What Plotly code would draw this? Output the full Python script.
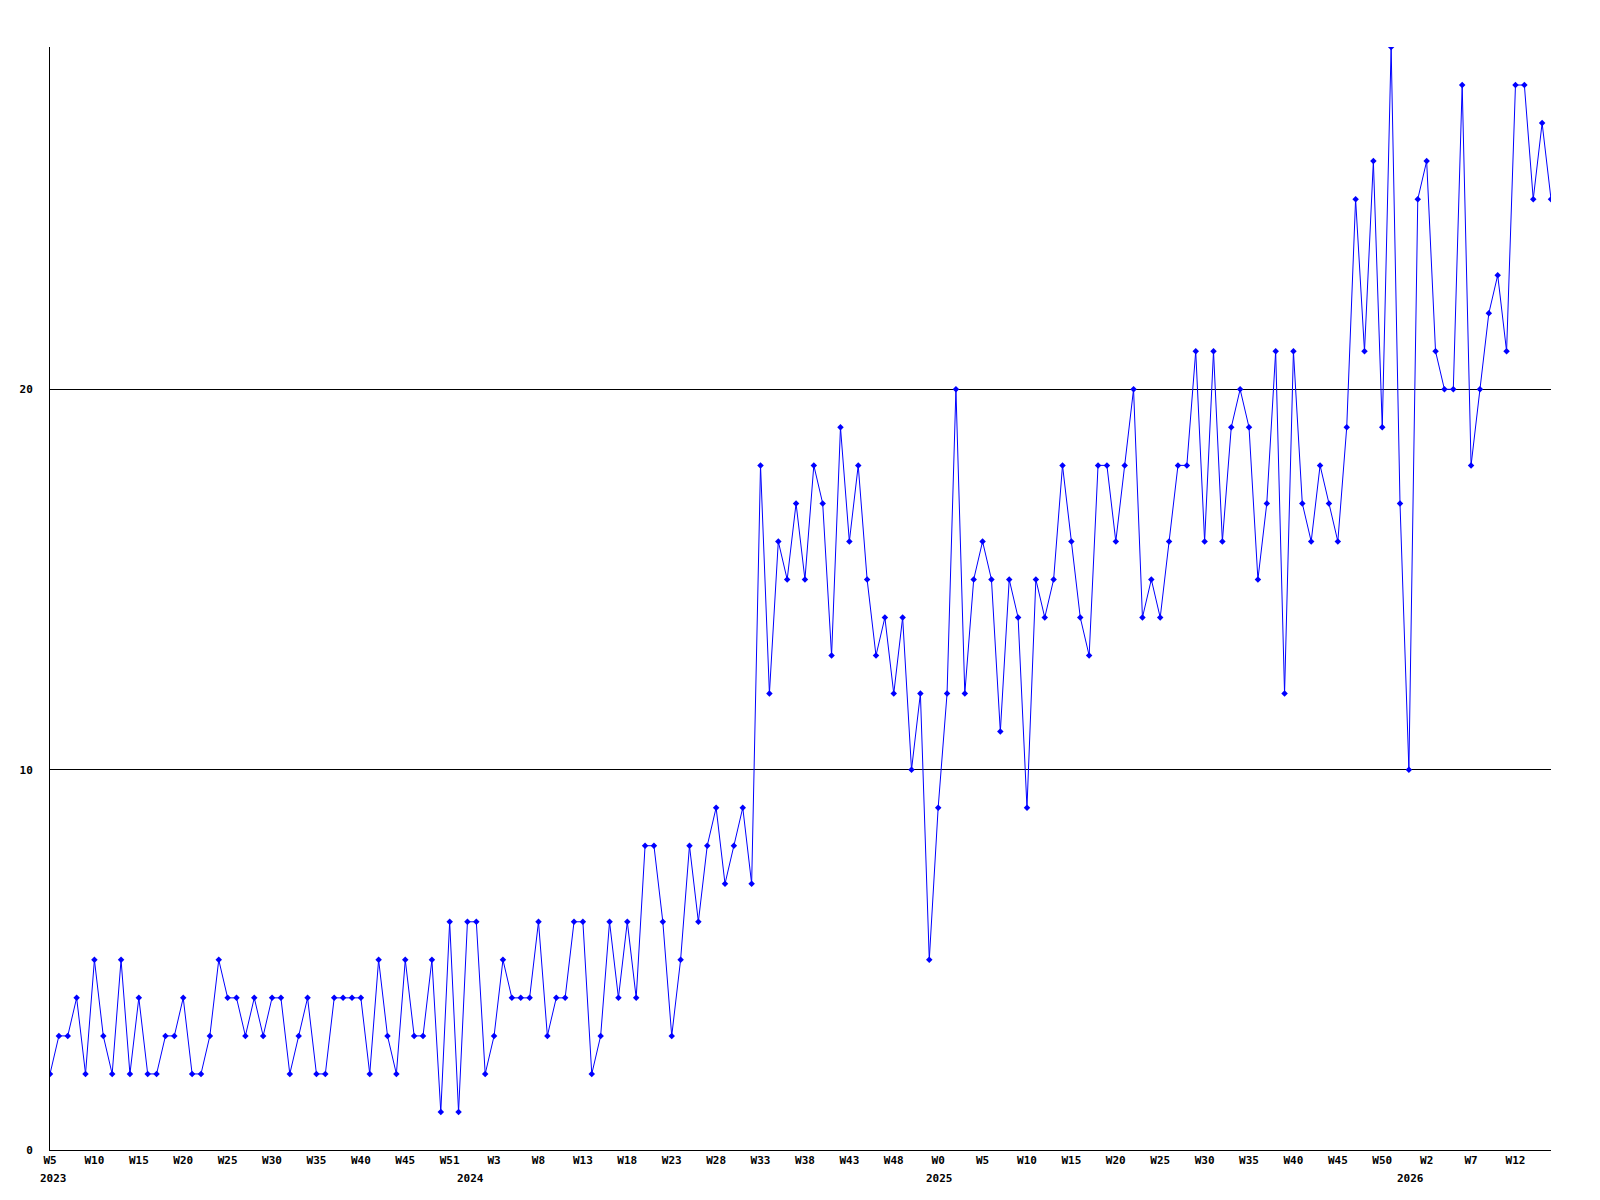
import plotly.graph_objects as go

# weekly values, 2023 W5 onwards
values = [
    2, 3, 3, 4, 2, 5, 3, 2, 5, 2, 4, 2, 2, 3, 3, 4, 2, 2, 3, 5, 4, 4,
    3, 4, 3, 4, 4, 2, 3, 4, 2, 2, 4, 4, 4, 4, 2, 5, 3, 2, 5, 3, 3,
    5, 1, 6, 1, 6, 6, 2, 3, 5, 4, 4, 4, 6, 3, 4, 4, 6, 6, 2, 3, 6, 4,
    6, 4, 8, 8, 6, 3, 5, 8, 6, 8, 9, 7, 8, 9, 7,
    18, 12, 16, 15, 17, 15, 18, 17, 13, 19, 16, 18, 15, 13, 14, 12, 14, 10, 12, 5, 9, 12,
    20, 12, 15, 16, 15, 11, 15, 14, 9, 15, 14, 15, 18, 16, 14, 13, 18, 18, 16, 18, 20,
    14, 15, 14, 16, 18, 18, 21, 16, 21, 16, 19, 20, 19, 15, 17, 21, 12, 21, 17, 16, 18, 17, 16,
    19, 25, 21, 26, 19, 29, 17, 10, 25, 26, 21, 20, 20, 28, 18, 20, 22, 23, 21, 28, 28, 25, 27, 25,
]
week_index = list(range(len(values)))

# x tick labels (every 5th week)
tick_positions = list(range(0, len(values), 5))
tick_labels = [
    "W5", "W10", "W15", "W20", "W25", "W30", "W35", "W40", "W45", "W51",
    "W3", "W8", "W13", "W18", "W23", "W28", "W33", "W38", "W43", "W48",
    "W0", "W5", "W10", "W15", "W20", "W25", "W30", "W35", "W40", "W45", "W50",
    "W2", "W7", "W12",
]
# year labels and the week index where each year begins
year_labels = ["2023", "2024", "2025", "2026"]
year_positions = [0.4, 47.4, 100.2, 153.2]

y_ticks = [0, 10, 20]

FONT = "DejaVu Sans Mono"

fig = go.Figure()
fig.add_trace(go.Scatter(
    x=week_index, y=values, mode="lines+markers",
    line=dict(color="#0000ff", width=1),
    marker=dict(symbol="diamond", size=5, color="#0000ff"),
    showlegend=False, hoverinfo="skip",
))

for lbl, pos in zip(year_labels, year_positions):
    fig.add_annotation(
        x=pos, y=0, xref="x", yref="paper", text="<b>%s</b>" % lbl,
        showarrow=False, yanchor="top", xanchor="center", yshift=-20,
        font=dict(family=FONT, size=11, color="black"),
    )

fig.update_layout(
    width=1600, height=1200,
    margin=dict(l=42, r=57, t=39, b=58),
    paper_bgcolor="white", plot_bgcolor="white",
    font=dict(family=FONT, size=11, color="black"),
    xaxis=dict(
        range=[0, len(values) - 1], tickmode="array",
        tickvals=tick_positions, ticktext=["<b>%s</b>" % t for t in tick_labels],
        showgrid=False, zeroline=False, showline=True, linecolor="black", linewidth=1,
        ticks="", tickangle=0, tickfont=dict(family=FONT, size=11, color="black"),
    ),
    yaxis=dict(
        range=[0, 29], tickmode="array", tickvals=y_ticks,
        ticktext=["<b>%d</b>" % v for v in y_ticks],
        showgrid=True, gridcolor="black", gridwidth=1,
        zeroline=False, showline=True, linecolor="black", linewidth=1,
        ticks="", ticklabelstandoff=14, tickfont=dict(family=FONT, size=11, color="black"),
    ),
)

fig.write_html("out.html", config={"displayModeBar": False})
